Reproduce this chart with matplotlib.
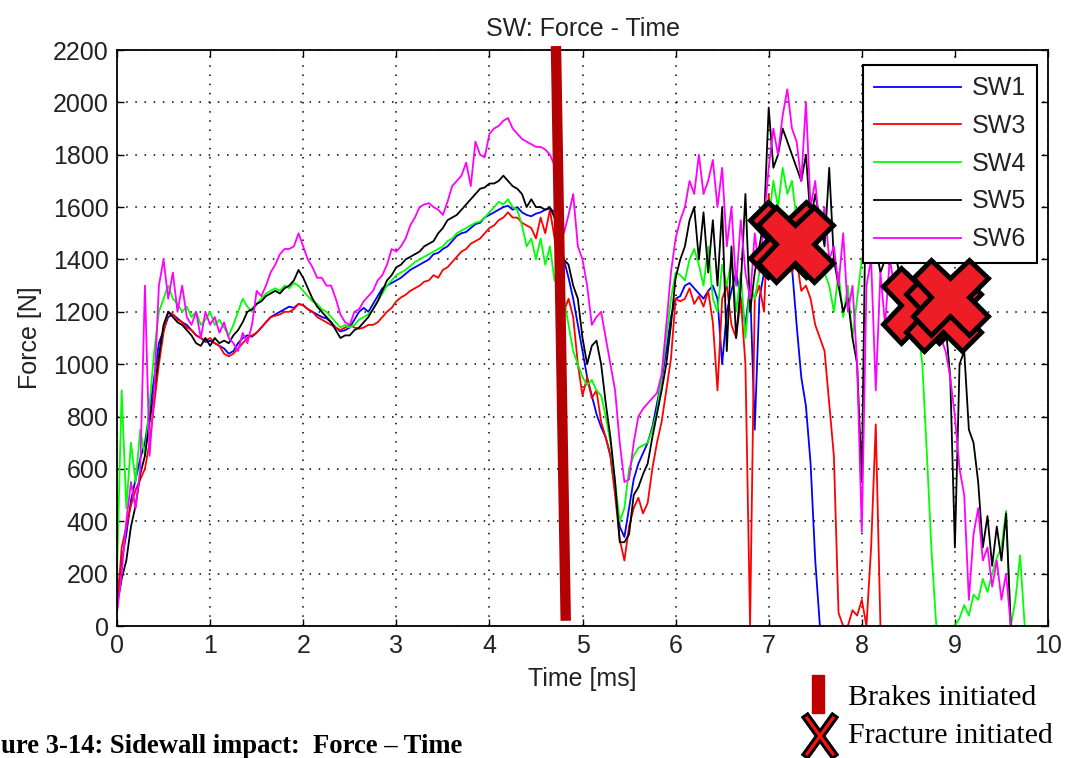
import numpy as np
import matplotlib

matplotlib.use("Agg")
import matplotlib.pyplot as plt
from matplotlib.lines import Line2D
from matplotlib.patches import Rectangle

# force [N] sampled every 0.05 ms, starting at t = 0
DT = 0.05

sw1 = [
    100, 250, 350, 480, 560, 640, 700, 820, 950, 1080,
    1130, 1180, 1190, 1175, 1160, 1150, 1130, 1110, 1100, 1085,
    1090, 1080, 1070, 1060, 1040, 1050, 1080, 1100, 1110, 1105,
    1120, 1140, 1160, 1180, 1190, 1200, 1210, 1220, 1215, 1230,
    1225, 1210, 1200, 1190, 1180, 1175, 1160, 1140, 1125, 1130,
    1140, 1170, 1200, 1215, 1200, 1230, 1260, 1290, 1300, 1310,
    1320, 1330, 1345, 1360, 1370, 1380, 1390, 1400, 1420, 1425,
    1440, 1450, 1470, 1490, 1500, 1505, 1520, 1535, 1540, 1560,
    1570, 1580, 1590, 1600, 1605, 1590, 1600, 1580, 1570, 1565,
    1575, 1580, 1590, 1595, 1580, 1450, 1400, 1330, 1250, 1150,
    1050, 950, 880, 810, 760, 720, 650, 520, 380, 340,
    450, 560, 620, 660, 700, 760, 850, 940, 1050, 1180,
    1250, 1260, 1300, 1310, 1290, 1270, 1250, 1280, 1300, 1250,
    1000, 1200, 1280, 1350, 1250, 1150, 1300, 750, 1250, 1350,
    1380, 1400, 1350, 1380, 1400, 1370, 1150, 950, 840, 620,
    250, 0,
]

sw3 = [
    60, 300, 380, 460, 520, 560, 600, 700, 850, 1000,
    1120, 1200, 1190, 1170, 1160, 1140, 1130, 1110, 1100, 1090,
    1100, 1080, 1070, 1040, 1030, 1040, 1060, 1080, 1100, 1110,
    1120, 1140, 1160, 1180, 1185, 1190, 1200, 1200, 1210, 1230,
    1225, 1210, 1200, 1180, 1170, 1160, 1150, 1140, 1130, 1140,
    1150, 1140, 1135, 1140, 1150, 1150, 1160, 1180, 1200, 1215,
    1240, 1255, 1265, 1280, 1290, 1300, 1315, 1320, 1340, 1330,
    1360, 1370, 1390, 1410, 1430, 1440, 1460, 1470, 1480, 1500,
    1520, 1530, 1550, 1560, 1580, 1560, 1560, 1540, 1530, 1520,
    1480, 1560, 1500, 1590, 1480, 1350, 1200, 1250, 1180, 1000,
    880, 950, 870, 900, 780, 720, 650, 500, 330, 250,
    380, 450, 490, 430, 470, 600, 700, 780, 900, 1020,
    1250, 1240, 1250, 1290, 1230, 1260, 1220, 1280, 1160, 900,
    1250, 1300, 1150, 1100, 1250, 1000, 0, 1250, 1300, 1200,
    1650, 1350, 1450, 1350, 1500, 1350, 1400, 1280, 1300, 1250,
    1150, 1100, 1050, 850, 650, 50, 0, 0, 60, 40,
    100, 0, 300, 770, 0,
]

sw4 = [
    200, 900, 450, 700, 550, 750, 650, 850, 1050, 1200,
    1250, 1300, 1250, 1230, 1200, 1220, 1180, 1200, 1150, 1170,
    1200, 1150, 1170, 1140, 1110, 1150, 1200, 1250, 1220, 1200,
    1230, 1250, 1270, 1280, 1290, 1280, 1300, 1290, 1310, 1300,
    1280, 1260, 1240, 1230, 1210, 1200, 1180, 1160, 1140, 1150,
    1140, 1150, 1170, 1180, 1190, 1210, 1240, 1270, 1300, 1320,
    1340, 1350, 1360, 1375, 1390, 1400, 1410, 1420, 1430, 1440,
    1450, 1470, 1480, 1500, 1510, 1520, 1530, 1540, 1545, 1560,
    1580, 1600, 1620, 1610, 1630, 1600, 1590, 1530, 1450, 1480,
    1400, 1480, 1380, 1450, 1320, 1300, 1250, 1150, 1050, 1000,
    950, 920, 940, 900, 880, 800, 700, 550, 400, 450,
    600, 650, 680, 690, 700, 750, 820, 950, 1100, 1250,
    1350, 1340, 1320, 1400, 1440, 1380, 1300, 1450, 1250, 1200,
    1380, 1300, 1400, 1200, 1350, 1100, 1300, 1250, 1350, 1400,
    1550, 1700, 1600, 1750, 1650, 1700, 1550, 1600, 1500, 1450,
    1500, 1400, 1350, 1300, 1200, 1350, 1180, 1300, 1100, 1250,
    1400, 1450, 1380, 1420, 1400, 1450, 1400, 1430, 1350, 1300,
    1250, 1200, 1150, 1000, 650, 280, 0, 0, 0, 0,
    0, 30, 80, 40, 120, 100, 180, 130, 200, 260,
    300, 440, 0, 100, 270, 0,
]

sw5 = [
    80, 180, 250, 380, 460, 580, 650, 780, 900, 1030,
    1150, 1200, 1180, 1160, 1150, 1130, 1110, 1080, 1070, 1100,
    1070, 1100, 1080, 1090, 1080, 1110, 1130, 1160, 1200, 1210,
    1230, 1240, 1260, 1270, 1280, 1270, 1290, 1300, 1320, 1360,
    1330, 1290, 1250, 1220, 1200, 1180, 1160, 1130, 1100, 1110,
    1110, 1130, 1140, 1160, 1180, 1210, 1240, 1280, 1320, 1340,
    1370, 1380, 1400, 1410, 1420, 1430, 1450, 1460, 1470, 1500,
    1520, 1550, 1560, 1570, 1590, 1610, 1630, 1650, 1670, 1675,
    1690, 1690, 1700, 1720, 1700, 1680, 1670, 1650, 1600, 1630,
    1600, 1600, 1590, 1600, 1560, 1450, 1400, 1380, 1300, 1250,
    1100, 1000, 1070, 1090, 1000, 850, 720, 550, 320, 320,
    350, 500, 530, 580, 620, 720, 810, 900, 1000, 1150,
    1330, 1400, 1450, 1550, 1600, 1400, 1580, 1350, 1550, 1300,
    1600, 1050, 1450, 1100, 1300, 1650, 1200, 1350, 1450, 1550,
    1980, 1750, 1800, 1900, 1850, 1800, 1750, 1700, 1800, 1550,
    1650, 1550, 1450, 1750, 1400, 1300, 1200, 1250, 1100, 1000,
    550, 1850, 1400, 1450, 1350, 1400, 1380, 1450, 1350, 1300,
    1350, 1300, 1250, 1200, 1250, 1200, 1250, 1180, 1150, 950,
    300, 1000, 1050, 750, 700, 550, 300, 420, 230, 380,
    250, 430, 0,
]

sw6 = [
    50, 200, 400, 550, 450, 600, 1300, 650, 900, 1300,
    1400, 1250, 1350, 1200, 1300, 1180, 1150, 1200, 1100, 1200,
    1150, 1180, 1120, 1160, 1100, 1080, 1050, 1120, 1080, 1150,
    1280, 1260, 1300, 1350, 1380, 1420, 1440, 1440, 1450, 1500,
    1450, 1400, 1370, 1330, 1330, 1300, 1300, 1250, 1190, 1160,
    1150, 1200, 1210, 1240, 1260, 1280, 1320, 1340, 1380, 1440,
    1430, 1450, 1480, 1530, 1560, 1600, 1610, 1615, 1600, 1590,
    1570, 1620, 1680, 1700, 1720, 1770, 1680, 1850, 1800, 1790,
    1880, 1900, 1910, 1930, 1940, 1900, 1880, 1860, 1850, 1840,
    1830, 1830, 1820, 1800, 1760, 1650, 1500, 1570, 1650, 1450,
    1400, 1300, 1150, 1180, 1200, 1100, 1000, 900, 700, 550,
    560, 700, 800, 830, 850, 870, 890, 960, 1150, 1350,
    1480, 1550, 1600, 1700, 1650, 1800, 1650, 1700, 1780, 1600,
    1750, 1450, 1600, 1300, 1550, 1350, 1250, 1500, 1350, 1550,
    1750, 1900, 1800, 1950, 2050, 1900, 1850, 1700, 2000, 1600,
    1700, 1500, 1600, 1400, 1450, 1300, 1500, 1200, 1300, 1000,
    360, 1300, 1400, 900, 1350, 1150, 1400, 1300, 1250, 1150,
    1200, 1150, 1200, 1100, 1250, 1150, 1200, 1100, 1050, 950,
    800, 600, 500, 100, 350, 450, 250, 300, 150, 250,
    100, 200, 0,
]

SERIES = [
    ("SW1", sw1, "#0000FF"),
    ("SW3", sw3, "#FF0000"),
    ("SW4", sw4, "#00FF00"),
    ("SW5", sw5, "#000000"),
    ("SW6", sw6, "#FF00FF"),
]

# thick bar where the brakes kick in
brake_t = [4.715, 4.82]
brake_f = [2215, 20]

# fracture markers
fracture_t = [7.20, 7.28, 8.63, 8.87, 8.95]
fracture_f = [1480, 1460, 1225, 1195, 1256]

SANS = ["Liberation Sans", "DejaVu Sans"]
SERIF = ["Liberation Serif", "DejaVu Serif"]
TXT = "#222222"


def main() -> None:
    fig = plt.figure(figsize=(10.71, 7.58), dpi=100)
    W, H = 1071, 758
    ax = fig.add_axes([117 / W, 132 / H, 931 / W, 576 / H])

    for name, vals, color in SERIES:
        t = np.arange(len(vals)) * DT
        ax.plot(t, vals, color=color, lw=1.3, label=name)

    ax.plot(brake_t, brake_f, color="#B40000", lw=7.5, solid_capstyle="butt",
            zorder=4, clip_on=False)

    ax.set_xlim(0, 10)
    ax.set_ylim(0, 2200)
    ax.set_xticks(range(0, 11))
    ax.set_yticks(range(0, 2201, 200))
    ax.grid(True, color="black", linestyle=(0, (1, 5)), linewidth=1.1)
    ax.tick_params(direction="in", top=True, right=True, length=5, width=1,
                   pad=6, labelsize=18, labelcolor=TXT)
    for lab in ax.get_xticklabels() + ax.get_yticklabels():
        lab.set_family(SANS)
    for sp in ax.spines.values():
        sp.set_linewidth(1.3)

    ax.set_title("SW: Force - Time", fontsize=18, family=SANS, color=TXT, pad=10)
    ax.set_xlabel("Time [ms]", fontsize=18, family=SANS, color=TXT, labelpad=6)
    ax.set_ylabel("Force [N]", fontsize=18, family=SANS, color=TXT, labelpad=8)

    leg = ax.legend(loc="upper right", bbox_to_anchor=(1037 / W, 1 - 65 / H),
                    bbox_transform=fig.transFigure, borderaxespad=0,
                    fancybox=False, edgecolor="black", framealpha=1,
                    prop={"family": SANS, "size": 18}, handlelength=3.5,
                    handletextpad=0.4, labelspacing=0.55, borderpad=0.45)
    leg.get_frame().set_linewidth(1.5)
    for txt in leg.get_texts():
        txt.set_color(TXT)

    ax.plot(fracture_t, fracture_f, linestyle="none", marker="X", markersize=54,
            markerfacecolor="#EE1C24", markeredgecolor="black",
            markeredgewidth=3.5, zorder=10, clip_on=False)

    # key below the axes
    fig.add_artist(Rectangle((812 / W, 1 - 713 / H), 12 / W, 38 / H,
                             color="#C00000", transform=fig.transFigure))
    for lw, col in [(6.5, "black"), (2.2, "#FF1010")]:
        fig.add_artist(Line2D([807 / W, 833 / W], [1 - 718 / H, 1 - 754 / H],
                              lw=lw, color=col, transform=fig.transFigure))
        fig.add_artist(Line2D([833 / W, 807 / W], [1 - 718 / H, 1 - 754 / H],
                              lw=lw, color=col, transform=fig.transFigure))
    fig.text(848 / W, 1 - 705 / H, "Brakes initiated", fontsize=21.5,
             family=SERIF, va="baseline")
    fig.text(848 / W, 1 - 743 / H, "Fracture initiated", fontsize=21.5,
             family=SERIF, va="baseline")

    # the caption is cropped at the left edge in the source image
    fig.text(1 / W, 1 - 753 / H, "ure 3-14: Sidewall impact:  Force \u2013 Time",
             fontsize=19.2, family=SERIF, fontweight="bold", ha="left", va="baseline")

    fig.savefig("out.png", dpi=100)
    plt.close(fig)


if __name__ == "__main__":
    main()
